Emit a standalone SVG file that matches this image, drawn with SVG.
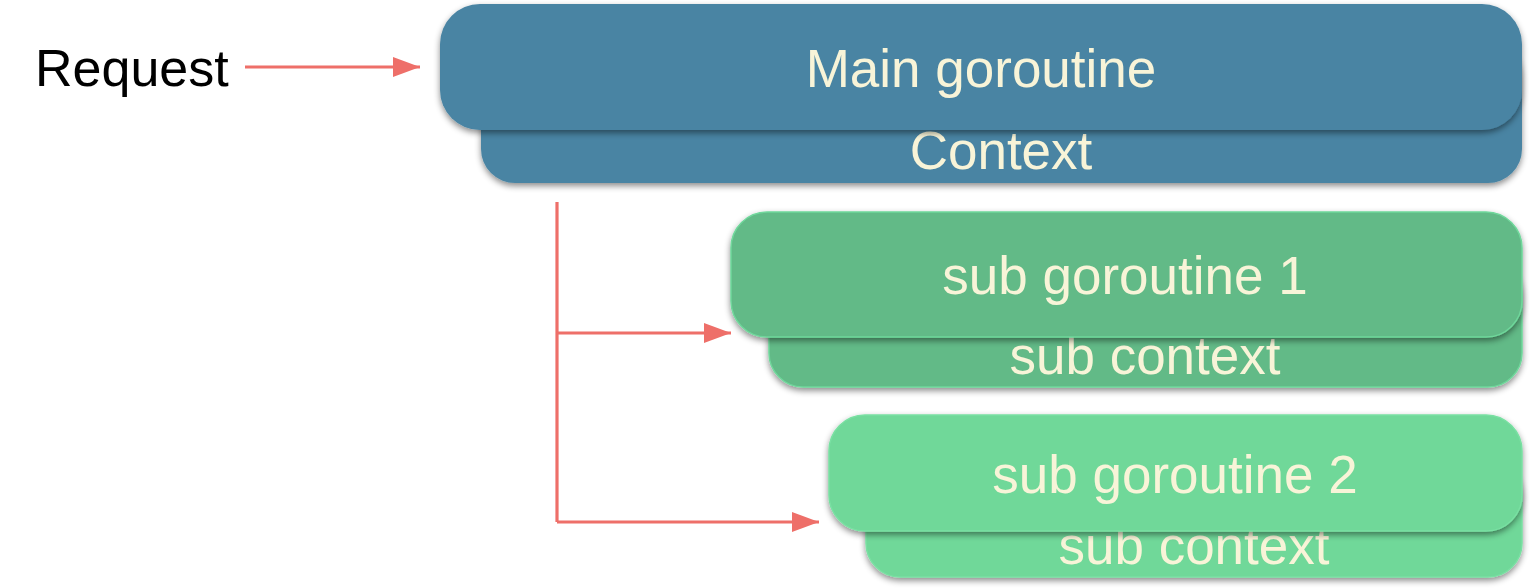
<svg xmlns="http://www.w3.org/2000/svg" width="1530" height="588" viewBox="0 0 1530 588">
<style>
  .lbl { font-family: "Liberation Sans", Arial, sans-serif; font-size: 53px; fill: #F8F4D8; text-anchor: middle; }
  .req { font-family: "Liberation Sans", Arial, sans-serif; font-size: 52px; fill: #000000; }
  .blue { fill: #4A84A3; }
  .g1 { fill: #62BA87; stroke: #6FD79B; stroke-width: 1.5; }
  .g2 { fill: #6FD899; stroke: #79E0A2; stroke-width: 1.5; }
  .conn { stroke: #EE6F69; stroke-width: 3.2; fill: none; }
</style>
<defs>
  <filter id="sh" x="-5%" y="-20%" width="110%" height="150%">
    <feDropShadow dx="0" dy="3" stdDeviation="3" flood-color="#000" flood-opacity="0.45"/>
  </filter>
  <marker id="ah" markerUnits="userSpaceOnUse" markerWidth="27" markerHeight="21" refX="27" refY="10" orient="auto">
    <path d="M0,0 L27,10 L0,20 z" fill="#EE6F69"/>
  </marker>
</defs>

<text class="req" x="35" y="86">Request</text>

<g id="main-context">
  <rect class="blue" x="481" y="40" width="1041" height="143" rx="34" filter="url(#sh)"/>
  <text class="lbl" x="1001" y="169">Context</text>
</g>
<g id="main-goroutine">
  <rect class="blue" x="440" y="4" width="1082" height="126" rx="40" filter="url(#sh)"/>
  <text class="lbl" x="981" y="87">Main goroutine</text>
</g>

<g id="sub-context-1">
  <rect class="g1" x="769" y="260" width="753" height="127" rx="34" filter="url(#sh)"/>
  <text class="lbl" x="1145" y="374">sub context</text>
</g>
<g id="sub-goroutine-1">
  <rect class="g1" x="731" y="212" width="791" height="125" rx="36" filter="url(#sh)"/>
  <text class="lbl" x="1125" y="294">sub goroutine 1</text>
</g>

<g id="sub-context-2">
  <rect class="g2" x="866" y="460" width="656" height="117" rx="34" filter="url(#sh)"/>
  <text class="lbl" x="1194" y="564">sub context</text>
</g>
<g id="sub-goroutine-2">
  <rect class="g2" x="829" y="415" width="693" height="116" rx="36" filter="url(#sh)"/>
  <text class="lbl" x="1175" y="493">sub goroutine 2</text>
</g>

<g id="connectors">
  <line class="conn" x1="245" y1="67" x2="420" y2="67" marker-end="url(#ah)"/>
  <line class="conn" x1="557" y1="202" x2="557" y2="522"/>
  <line class="conn" x1="557" y1="333" x2="731" y2="333" marker-end="url(#ah)"/>
  <line class="conn" x1="557" y1="522" x2="819" y2="522" marker-end="url(#ah)"/>
</g>
</svg>
